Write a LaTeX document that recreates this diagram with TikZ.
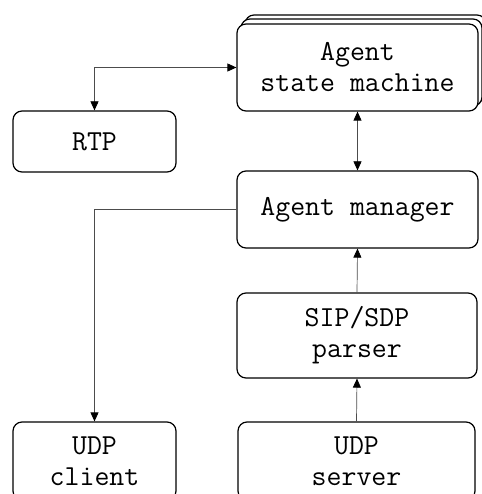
\documentclass[tikz,border=0pt]{standalone}
\usetikzlibrary{arrows.meta, calc, positioning, shadows}

\begin{document}
\begin{tikzpicture}[x=1pt, y=-1pt, >={Triangle[length=9pt, width=8pt, color=black]},
    block/.style={draw, line width=1.2pt, rounded corners=9pt, fill=white, align=center,
        font=\ttfamily\fontsize{29}{31}\selectfont, inner sep=0pt},
    link/.style={draw=black!70, line width=0.7pt}]
    \useasboundingbox (0,0) rectangle (481,494);

    % Blocks
    \node[block, minimum width=241pt, minimum height=87pt,
        copy shadow={shadow xshift=8pt, shadow yshift=9pt},
        copy shadow={shadow xshift=4pt, shadow yshift=5pt}]
        (asm) at (357.5,67.5) {Agent\\state machine};
    \node[block, minimum width=163pt, minimum height=61pt] (rtp) at (94.5,141.5) {RTP};
    \node[block, minimum width=241pt, minimum height=77pt] (mgr) at (357.5,209.5) {Agent manager};
    \node[block, minimum width=240pt, minimum height=85pt] (sip) at (357,335.5) {SIP/SDP\\parser};
    \node[block, minimum width=163pt, minimum height=78pt] (udpc) at (94.5,461) {UDP\\client};
    \node[block, minimum width=237pt, minimum height=78pt] (udps) at (356.5,461) {UDP\\server};

    % Connections
    \draw[link, <->] (rtp.north) |- (asm.west);
    \draw[link, <->] (asm.south) -- (mgr.north);
    \draw[link, ->] (mgr.west) -| (udpc.north);
    \draw[link, ->] (sip.north) -- (mgr.south);
    \draw[link, ->] (udps.north) -- (sip.south);
\end{tikzpicture}
\end{document}
